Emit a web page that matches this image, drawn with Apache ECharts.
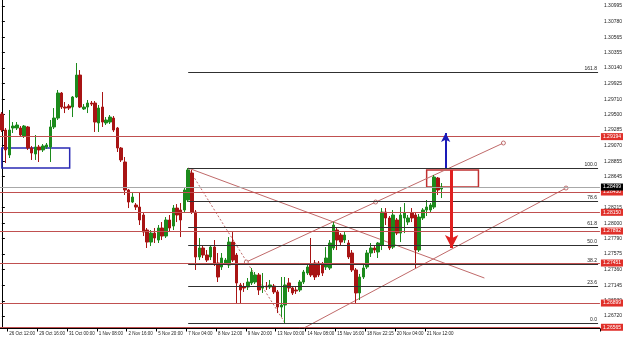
<!DOCTYPE html>
<html><head><meta charset="utf-8">
<script src="https://cdn.jsdelivr.net/npm/echarts@6/dist/echarts.min.js"></script>
<style>html,body{margin:0;padding:0;background:#fff}#c{width:625px;height:342px}</style>
</head><body><div id="c"></div>
<script>
// ---- data ----
const xTickLabels = ['26 Oct 12:00','29 Oct 16:00','31 Oct 00:00','1 Nov 08:00','2 Nov 16:00','5 Nov 20:00','7 Nov 04:00','8 Nov 12:00','9 Nov 20:00','13 Nov 00:00','14 Nov 08:00','15 Nov 16:00','18 Nov 22:15','20 Nov 04:00','21 Nov 12:00'];
const yTickLabels = ['1.26720','1.26930','1.27145','1.27360','1.27575','1.27790','1.28000','1.28215','1.28430','1.28645','1.28855','1.29070','1.29285','1.29500','1.29710','1.29925','1.30140','1.30355','1.30565','1.30780','1.30995'];
// [open, close, low, high]
const ohlc = [
[1.29506,1.29285,1.29258,1.29533],[1.29285,1.29010,1.28830,1.29313],[1.28941,1.29285,1.28899,1.29561],[1.29313,1.29340,1.29244,1.29395],
[1.29313,1.29354,1.29285,1.29395],[1.29313,1.29216,1.29189,1.29340],[1.29203,1.29340,1.29175,1.29354],[1.29327,1.29037,1.29010,1.29340],
[1.29037,1.28968,1.28872,1.29065],[1.28955,1.29051,1.28872,1.29216],[1.29051,1.29010,1.28844,1.29079],[1.29010,1.29065,1.28982,1.29092],
[1.29051,1.29079,1.29024,1.29106],[1.29051,1.29327,1.28844,1.29423],[1.29327,1.29450,1.29299,1.29588],[1.29450,1.29795,1.29423,1.29837],
[1.29795,1.29602,1.29575,1.29809],[1.29602,1.29588,1.29519,1.29671],[1.29616,1.29588,1.29561,1.29643],[1.29602,1.29740,1.29464,1.29754],
[1.29740,1.30043,1.29726,1.30209],[1.30043,1.29602,1.29588,1.30112],[1.29575,1.29602,1.29561,1.29643],[1.29602,1.29657,1.29519,1.29699],
[1.29657,1.29643,1.29616,1.29685],[1.29657,1.29395,1.29258,1.29685],[1.29382,1.29588,1.29258,1.29630],[1.29602,1.29395,1.29327,1.29809],
[1.29382,1.29423,1.29354,1.29464],[1.29395,1.29464,1.29368,1.29492],[1.29450,1.29285,1.29258,1.29478],[1.29313,1.29037,1.28982,1.29327],
[1.29037,1.28872,1.28844,1.29051],[1.28844,1.28458,1.28389,1.28913],[1.28458,1.28292,1.28209,1.28472],[1.28292,1.28361,1.28278,1.28416],
[1.28251,1.28223,1.28182,1.28278],[1.28223,1.28044,1.27975,1.28430],[1.28113,1.27878,1.27823,1.28154],[1.27906,1.27740,1.27658,1.27934],
[1.27740,1.27864,1.27685,1.27906],[1.27864,1.27796,1.27727,1.27934],[1.27768,1.27934,1.27727,1.27975],[1.27934,1.27823,1.27768,1.28016],
[1.27823,1.28044,1.27796,1.28085],[1.28044,1.27934,1.27878,1.28113],[1.27961,1.28209,1.27906,1.28251],[1.28209,1.28113,1.28016,1.28264],
[1.28182,1.28044,1.27809,1.28278],[1.28182,1.28458,1.28154,1.28485],[1.28320,1.28734,1.28292,1.28761],[1.28692,1.28154,1.28127,1.28734],
[1.28154,1.27534,1.27355,1.28182],[1.27534,1.27658,1.27492,1.27796],[1.27658,1.27561,1.27520,1.27699],[1.27561,1.27492,1.27465,1.27630],
[1.27534,1.27671,1.27492,1.27699],[1.27671,1.27451,1.27410,1.27768],[1.27451,1.27258,1.27189,1.27589],[1.27396,1.27520,1.27355,1.27589],
[1.27451,1.27492,1.27424,1.27520],[1.27424,1.27740,1.27382,1.27809],[1.27740,1.27492,1.27465,1.27878],[1.27561,1.27176,1.26899,1.27589],
[1.27148,1.27079,1.26899,1.27176],[1.27120,1.27107,1.27052,1.27176],[1.27120,1.27189,1.27079,1.27244],[1.27176,1.27327,1.27148,1.27382],
[1.27189,1.27286,1.27162,1.27327],[1.27286,1.27079,1.27010,1.27313],[1.27107,1.27134,1.27038,1.27313],[1.27134,1.27120,1.27079,1.27189],
[1.27120,1.27148,1.27093,1.27217],[1.27134,1.27052,1.27024,1.27162],[1.27052,1.26844,1.26761,1.27079],[1.26844,1.26872,1.26706,1.27258],
[1.26872,1.27148,1.26623,1.27258],[1.27176,1.27107,1.27052,1.27244],[1.27107,1.27038,1.27010,1.27134],[1.27079,1.27065,1.27024,1.27120],
[1.27079,1.27189,1.27052,1.27217],[1.27189,1.27327,1.27162,1.27355],[1.27313,1.27396,1.27286,1.27424],[1.27424,1.27286,1.27258,1.27796],
[1.27451,1.27258,1.27217,1.27492],[1.27451,1.27286,1.27258,1.27479],[1.27424,1.27313,1.27272,1.27465],[1.27396,1.27520,1.27355,1.27671],
[1.27382,1.27727,1.27355,1.27768],[1.27658,1.27975,1.27630,1.28016],[1.27906,1.27768,1.27630,1.27934],[1.27837,1.27740,1.27699,1.27864],
[1.27768,1.27837,1.27727,1.27878],[1.27727,1.27534,1.27506,1.27768],[1.27589,1.27355,1.27327,1.27630],[1.27355,1.27038,1.26899,1.27382],
[1.27038,1.27258,1.26941,1.27300],[1.27258,1.27382,1.27231,1.27451],[1.27396,1.27589,1.27368,1.27630],[1.27589,1.27658,1.27534,1.27727],
[1.27658,1.27630,1.27589,1.27685],[1.27603,1.27727,1.27520,1.27740],[1.27699,1.28154,1.27630,1.28209],[1.28154,1.28072,1.27975,1.28209],
[1.28072,1.27658,1.27630,1.28099],[1.27671,1.28113,1.27644,1.28182],[1.28044,1.27864,1.27837,1.28072],[1.27864,1.28113,1.27740,1.28223],
[1.28072,1.28140,1.27864,1.28278],[1.28016,1.28072,1.27975,1.28113],[1.28140,1.28072,1.28016,1.28209],[1.28113,1.27630,1.27382,1.28154],
[1.27630,1.28085,1.27603,1.28127],[1.28072,1.28182,1.28044,1.28209],[1.28182,1.28223,1.28099,1.28320],[1.28182,1.28251,1.28154,1.28278],
[1.28223,1.28637,1.28196,1.28665],[1.28623,1.28458,1.28389,1.28637],[1.28472,1.28499,1.28347,1.28554]
];
const redLevels = [1.29194, 1.28430, 1.28150, 1.27892, 1.27451, 1.26899, 1.26565];
const bidPrice = 1.28499;
const fibHigh = [50, 1.28761];
const fibLow = [76, 1.26623];
const fibRatios = [1.618, 1.0, 0.786, 0.618, 0.5, 0.382, 0.236, 0];
const fibNames = ['161.8','100.0','78.6','61.8','50.0','38.2','23.6','0.0'];
const fibEnd = 160;
const trendUpper = [[65.6, 1.27465], [134.6, 1.29106]];
const trendLower = [[81.1, 1.26555], [151.4, 1.28485]];
const trendDown = [[50, 1.28761], [129.5, 1.27244]];
const anchorDots = [[65.6, 1.27465], [100.3, 1.28292], [134.6, 1.29106], [151.4, 1.28485]];
const blueBox = [[0, 1.29037], [18.2, 1.28761]];
const redBox = [[114, 1.28734], [127.9, 1.28499]];
const blueArrow = [[119.1, 1.28761], [119.1, 1.29244]];
const redArrow = [[120.7, 1.28734], [120.7, 1.27658]];

// ---- layout constants ----
const SLOTS = 161, FIRST_LABEL_BAR = 2, LABEL_EVERY = 8;
const Y_MIN = 1.26548, Y_MAX = 1.31078;
const FONT = 'Liberation Sans';

const categories = Array.from({length: SLOTS}, (_, i) => {
  const k = (i - FIRST_LABEL_BAR) / LABEL_EVERY;
  return (Number.isInteger(k) && k >= 0 && k < xTickLabels.length) ? xTickLabels[k] : '';
});
const yTickValues = yTickLabels.map(Number);
const fibLevel = r => fibLow[1] + r * (fibHigh[1] - fibLow[1]);

const chart = echarts.init(document.getElementById('c'), null, {renderer: 'canvas'});
const redLabel = {show: true, position: 'end', distance: 1, backgroundColor: '#e0302a', color: '#fff',
  fontSize: 5, fontFamily: FONT, padding: [1, 2, 1, 2], formatter: p => Number(p.value).toFixed(5)};
const trendStyle = {color: '#c06a6a', width: 1};

chart.setOption({
  animation: false,
  backgroundColor: '#fff',
  grid: {left: 0, right: 23, top: 0, bottom: 13.5},
  xAxis: [{
    type: 'category', data: categories, boundaryGap: true,
    axisLine: {show: true, lineStyle: {color: '#000', width: 1}},
    axisTick: {show: true, length: 3, interval: (i, v) => v !== '', lineStyle: {color: '#000'}},
    axisLabel: {interval: (i, v) => v !== '', align: 'left', margin: 3, fontSize: 4.5, fontFamily: FONT, color: '#222'},
    splitLine: {show: false}
  }, {
    type: 'value', show: false, min: -0.5, max: SLOTS - 0.5
  }],
  yAxis: [{
    type: 'value', position: 'right', min: Y_MIN, max: Y_MAX, scale: true,
    splitLine: {show: false},
    axisLine: {show: true, lineStyle: {color: '#000', width: 1}},
    axisTick: {show: true, length: 3, customValues: yTickValues, lineStyle: {color: '#000'}},
    axisLabel: {customValues: yTickValues, margin: 4, fontSize: 5, fontFamily: FONT, color: '#222',
      formatter: v => { const i = yTickValues.findIndex(t => Math.abs(t - v) < 1e-7); return i >= 0 ? yTickLabels[i] : ''; }}
  }],
  series: [
    {
      type: 'candlestick', xAxisIndex: 0, yAxisIndex: 0, data: ohlc, barWidth: 3, z: 3,
      itemStyle: {color: '#1c8a1c', color0: '#a81414', borderColor: '#1c8a1c', borderColor0: '#a81414', borderWidth: 1},
      markLine: {
        silent: true, symbol: ['none', 'none'], animation: false, precision: 5,
        data: redLevels.map(v => ({yAxis: v, lineStyle: {color: '#c05050', width: 1, type: 'solid'}, label: redLabel}))
          .concat([{yAxis: bidPrice, lineStyle: {color: '#a8a8a8', width: 1, type: 'solid'},
            label: Object.assign({}, redLabel, {backgroundColor: '#000'})}])
      }
    },
    {
      type: 'line', xAxisIndex: 1, yAxisIndex: 0, data: [fibHigh, fibLow], symbol: 'none', z: 2,
      lineStyle: {color: '#c06a6a', width: 1, type: [2, 2]},
      markLine: {
        silent: true, symbol: ['none', 'none'], animation: false, precision: 5,
        lineStyle: {color: '#303030', width: 1, type: 'solid'},
        label: {show: true, position: 'insideEndTop', distance: 1, formatter: '{b}', fontSize: 5, fontFamily: FONT, color: '#222'},
        data: fibRatios.map((r, i) => [{coord: [fibHigh[0], fibLevel(r)], name: fibNames[i]}, {coord: [fibEnd, fibLevel(r)]}])
      }
    },
    {
      type: 'line', xAxisIndex: 1, yAxisIndex: 0, data: trendUpper, symbol: 'none', z: 2, lineStyle: trendStyle,
      markLine: {
        silent: true, symbol: ['none', 'arrow'], symbolSize: [7, 9], animation: false, label: {show: false}, precision: 5,
        lineStyle: {color: '#1a1ab8', width: 2, type: 'solid'},
        data: [[{coord: blueArrow[0]}, {coord: blueArrow[1]}]]
      }
    },
    {
      type: 'line', xAxisIndex: 1, yAxisIndex: 0, data: trendDown, symbol: 'none', z: 2, lineStyle: trendStyle,
      markLine: {
        silent: true, symbol: ['none', 'arrow'], symbolSize: [10, 13], animation: false, label: {show: false}, precision: 5,
        lineStyle: {color: '#e02020', width: 3, type: 'solid'},
        data: [[{coord: redArrow[0]}, {coord: redArrow[1]}]]
      }
    },
    {
      type: 'line', xAxisIndex: 1, yAxisIndex: 0, data: trendLower, symbol: 'none', z: 2, lineStyle: trendStyle,
      markArea: {
        silent: true,
        data: [
          [{coord: blueBox[0], itemStyle: {color: 'rgba(0,0,0,0)', borderColor: '#2a2ab4', borderWidth: 1.5}}, {coord: blueBox[1]}],
          [{coord: redBox[0], itemStyle: {color: 'rgba(0,0,0,0)', borderColor: '#c03030', borderWidth: 1.5}}, {coord: redBox[1]}]
        ]
      }
    },
    {
      type: 'scatter', xAxisIndex: 1, yAxisIndex: 0, data: anchorDots, symbol: 'circle', symbolSize: 4, z: 4,
      itemStyle: {color: '#fff', borderColor: '#b05050', borderWidth: 1}
    }
  ]
});
</script>
</body></html>
